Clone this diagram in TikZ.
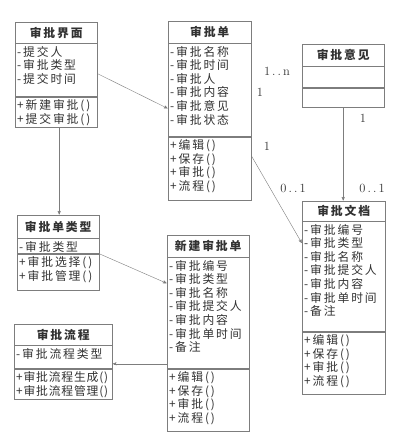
\documentclass[tikz,border=0pt]{standalone}
\usepackage{fontspec}
\usepackage{tikz}
\usetikzlibrary{arrows,positioning}
\newfontfamily\cjk{Noto Sans CJK SC}[LetterSpace=16]
\definecolor{linegray}{RGB}{125,125,125}
\definecolor{textgray}{RGB}{50,50,50}
\newcommand{\Rows}[3]{\begin{minipage}[c][#2][t]{#1}\vspace{2.5pt}#3\end{minipage}}

\begin{document}
\begin{tikzpicture}[x=1pt,y=-1pt,>=stealth',shorten >=0.5pt,
		text=textgray,font=\cjk\fontsize{11.8}{13.6}\selectfont,
		head part/.style={draw=linegray,inner sep=0pt,anchor=north west,
			font=\cjk\bfseries\fontsize{11.8}{13.6}\selectfont},
		list part/.style={draw=linegray,inner xsep=2pt,inner ysep=0pt,anchor=north west},
		empty part/.style={draw=linegray,inner sep=0pt,anchor=north west},
		link/.style={->,thin,draw=linegray},
		mult/.style={font=\fontsize{12.5}{14}\selectfont}]
		\useasboundingbox[fill=white] (0,0) rectangle (414,444);
		
		% 审批界面
		\node[head part,minimum width=82pt,minimum height=21pt] (jiemian) at (15,22) {审批界面};
		\node[list part] (jiemian-a) at (jiemian.south west) {\Rows{78pt}{53pt}{-提交人\\-审批类型\\-提交时间}};
		\node[list part] (jiemian-m) at (jiemian-a.south west) {\Rows{78pt}{30pt}{+新建审批()\\+提交审批()}};
		% 审批单
		\node[head part,minimum width=83pt,minimum height=22pt] (dan) at (168,21) {审批单};
		\node[list part] (dan-a) at (dan.south west) {\Rows{79pt}{93pt}{-审批名称\\-审批时间\\-审批人\\-审批内容\\-审批意见\\-审批状态}};
		\node[list part] (dan-m) at (dan-a.south west) {\Rows{79pt}{63pt}{+编辑()\\+保存()\\+审批()\\+流程()}};
		% 审批意见
		\node[head part,minimum width=82pt,minimum height=22pt] (yijian) at (302,44) {审批意见};
		\node[empty part,minimum width=82pt,minimum height=21pt] (yijian-a) at (yijian.south west) {};
		\node[empty part,minimum width=82pt,minimum height=19pt] (yijian-m) at (yijian-a.south west) {};
		% 审批文档
		\node[head part,minimum width=83pt,minimum height=20pt] (wendang) at (302,201) {审批文档};
		\node[list part] (wendang-a) at (wendang.south west) {\Rows{79pt}{110pt}{-审批编号\\-审批类型\\-审批名称\\-审批提交人\\-审批内容\\-审批单时间\\-备注}};
		\node[list part] (wendang-m) at (wendang-a.south west) {\Rows{79pt}{62pt}{+编辑()\\+保存()\\+审批()\\+流程()}};
		% 审批单类型
		\node[head part,minimum width=82pt,minimum height=23pt] (leixing) at (17,215) {审批单类型};
		\node[list part] (leixing-a) at (leixing.south west) {\Rows{78pt}{15pt}{-审批类型}};
		\node[list part] (leixing-m) at (leixing-a.south west) {\Rows{78pt}{36pt}{+审批选择()\\+审批管理()}};
		% 新建审批单
		\node[head part,minimum width=82pt,minimum height=22pt] (xinjian) at (167,235) {新建审批单};
		\node[list part] (xinjian-a) at (xinjian.south west) {\Rows{78pt}{111pt}{-审批编号\\-审批类型\\-审批名称\\-审批提交人\\-审批内容\\-审批单时间\\-备注}};
		\node[list part] (xinjian-m) at (xinjian-a.south west) {\Rows{78pt}{62pt}{+编辑()\\+保存()\\+审批()\\+流程()}};
		% 审批流程
		\node[head part,minimum width=98pt,minimum height=21pt] (liucheng) at (14,324) {审批流程};
		\node[list part] (liucheng-a) at (liucheng.south west) {\Rows{94pt}{23pt}{-审批流程类型}};
		\node[list part] (liucheng-m) at (liucheng-a.south west) {\Rows{94pt}{30pt}{\addfontfeature{LetterSpace=7}+审批流程生成()\\+审批流程管理()}};
		
		% multiplicities
		\node[mult] (m-dan-n) at (277,71) {1\,.\,.\,n};
		\node[mult] (m-dan-1) at (260,92) {1};
		\node[mult] (m-doc-1) at (267,146) {1};
		\node[mult] (m-doc-01) at (293,188) {0\,.\,.\,1};
		\node[mult] (m-yj-1) at (363,118) {1};
		\node[mult] (m-yj-01) at (372,188) {0\,.\,.\,1};
		
		\draw[link] ([yshift=-3.5pt]jiemian-a.east) -- ([yshift=-18.5pt]dan-a.west);
		\draw[link] ([xshift=3pt]jiemian-m.south) -- ([xshift=3pt]jiemian-m.south |- leixing.north);
		\draw[link] (leixing-a.south east) -- ([yshift=-26pt]xinjian-a.north west);
		\draw[link] ([yshift=5pt]xinjian-a.south west) -- ([yshift=5pt]liucheng-a.south east);
		\draw[link] ([yshift=-19pt]dan-m.north east) -- ([yshift=-22pt]wendang-a.north west);
		\draw[link] (yijian-m.south) -- (yijian-m.south |- wendang.north);
		\end{tikzpicture}
\end{document}
